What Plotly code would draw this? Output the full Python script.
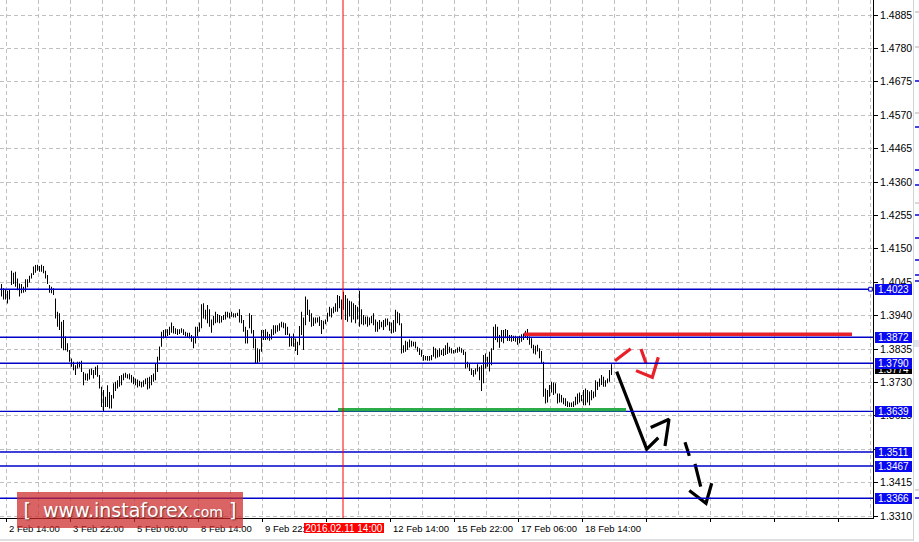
import plotly.graph_objects as go

# ---------------- data (GBP/USD H1 bars) ----------------
highs = [
    1.4039, 1.4026, 1.4023, 1.4018, 1.4023, 1.4081, 1.4075, 1.4078, 1.4057, 1.4041,
    1.4039, 1.4031, 1.4054, 1.4054, 1.4065, 1.4073, 1.4094, 1.4099, 1.4100, 1.4096,
    1.4100, 1.4096, 1.4081, 1.4068, 1.4036, 1.4031, 1.4026, 1.3994, 1.3952, 1.3947,
    1.3921, 1.3926, 1.3874, 1.3853, 1.3832, 1.3805, 1.3795, 1.3784, 1.3795, 1.3795,
    1.3798, 1.3763, 1.3758, 1.3758, 1.3771, 1.3774, 1.3769, 1.3779, 1.3784, 1.3753,
    1.3716, 1.3706, 1.3685, 1.3721, 1.3700, 1.3690, 1.3727, 1.3732, 1.3737, 1.3750,
    1.3753, 1.3758, 1.3760, 1.3756, 1.3758, 1.3753, 1.3748, 1.3742, 1.3739, 1.3735,
    1.3732, 1.3737, 1.3742, 1.3745, 1.3748, 1.3753, 1.3758, 1.3790, 1.3811, 1.3843,
    1.3889, 1.3895, 1.3897, 1.3897, 1.3905, 1.3918, 1.3907, 1.3900, 1.3897, 1.3897,
    1.3900, 1.3897, 1.3889, 1.3886, 1.3886, 1.3879, 1.3874, 1.3905, 1.3905, 1.3918,
    1.3976, 1.3979, 1.3958, 1.3973, 1.3960, 1.3928, 1.3939, 1.3952, 1.3945, 1.3942,
    1.3939, 1.3942, 1.3952, 1.3952, 1.3949, 1.3952, 1.3947, 1.3947, 1.3949, 1.3960,
    1.3942, 1.3926, 1.3905, 1.3895, 1.3947, 1.3942, 1.3895, 1.3868, 1.3837, 1.3834,
    1.3895, 1.3895, 1.3897, 1.3889, 1.3882, 1.3897, 1.3910, 1.3910, 1.3910, 1.3916,
    1.3921, 1.3918, 1.3916, 1.3905, 1.3884, 1.3874, 1.3884, 1.3868, 1.3858, 1.3907,
    1.3952, 1.3934, 1.4000, 1.3991, 1.3958, 1.3947,
    1.3934, 1.3934, 1.3934, 1.3937, 1.3926, 1.3924, 1.3928, 1.3949, 1.3968, 1.3963,
    1.3968, 1.3979, 1.4005, 1.4002, 1.3991, 1.4015, 1.4005, 1.3994, 1.3987, 1.3984,
    1.3979, 1.3973, 1.3968, 1.4018, 1.3960, 1.3942, 1.3937, 1.3937, 1.3934, 1.3939,
    1.3947, 1.3928, 1.3921, 1.3926, 1.3921, 1.3926, 1.3931, 1.3931, 1.3921, 1.3918,
    1.3926, 1.3958, 1.3952, 1.3947, 1.3916, 1.3847, 1.3861, 1.3858, 1.3865, 1.3861,
    1.3858, 1.3858, 1.3842, 1.3837, 1.3832, 1.3816, 1.3813, 1.3813, 1.3813, 1.3816,
    1.3842, 1.3837, 1.3832, 1.3837, 1.3832, 1.3837, 1.3847, 1.3855, 1.3842, 1.3837,
    1.3832, 1.3834, 1.3840, 1.3842, 1.3837, 1.3832, 1.3826, 1.3795,
    1.3790, 1.3774, 1.3769, 1.3774, 1.3787, 1.3779, 1.3784, 1.3816, 1.3821, 1.3811,
    1.3826, 1.3837, 1.3905, 1.3913, 1.3905, 1.3879, 1.3895, 1.3895, 1.3898, 1.3895,
    1.3879, 1.3879, 1.3877, 1.3877, 1.3874, 1.3877, 1.3881, 1.3884, 1.3892, 1.3898,
    1.3874, 1.3869, 1.3848, 1.3845, 1.3848, 1.3837, 1.3829, 1.3795, 1.3711, 1.3706,
    1.3722, 1.3732, 1.3730, 1.3727, 1.3695, 1.3695, 1.3690, 1.3682, 1.3680, 1.3671,
    1.3667, 1.3667, 1.3671, 1.3685, 1.3695, 1.3698, 1.3690, 1.3706, 1.3711, 1.3706,
    1.3701, 1.3706, 1.3701, 1.3737, 1.3732, 1.3742, 1.3753, 1.3748, 1.3737, 1.3742,
    1.3769, 1.3787,
]
lows = [
    1.4000, 1.3991, 1.3991, 1.3978, 1.3991, 1.4036, 1.4039, 1.4031, 1.4020, 1.4000,
    1.4010, 1.4012, 1.4015, 1.4029, 1.4044, 1.4057, 1.4068, 1.4075, 1.4081, 1.4078,
    1.4078, 1.4073, 1.4057, 1.4039, 1.4012, 1.4010, 1.4005, 1.3931, 1.3905, 1.3895,
    1.3837, 1.3831, 1.3831, 1.3826, 1.3795, 1.3779, 1.3768, 1.3753, 1.3774, 1.3777,
    1.3763, 1.3721, 1.3737, 1.3735, 1.3739, 1.3753, 1.3742, 1.3753, 1.3748, 1.3711,
    1.3653, 1.3637, 1.3653, 1.3653, 1.3648, 1.3648, 1.3679, 1.3703, 1.3711, 1.3716,
    1.3721, 1.3737, 1.3745, 1.3742, 1.3739, 1.3729, 1.3724, 1.3721, 1.3714, 1.3718,
    1.3714, 1.3716, 1.3724, 1.3708, 1.3711, 1.3721, 1.3732, 1.3737, 1.3763, 1.3799,
    1.3842, 1.3868, 1.3871, 1.3876, 1.3879, 1.3886, 1.3884, 1.3882, 1.3879, 1.3882,
    1.3886, 1.3879, 1.3874, 1.3871, 1.3868, 1.3858, 1.3837, 1.3852, 1.3874, 1.3889,
    1.3900, 1.3931, 1.3928, 1.3916, 1.3905, 1.3886, 1.3910, 1.3916, 1.3918, 1.3916,
    1.3918, 1.3926, 1.3928, 1.3934, 1.3931, 1.3936, 1.3934, 1.3934, 1.3939, 1.3918,
    1.3916, 1.3889, 1.3852, 1.3852, 1.3900, 1.3884, 1.3837, 1.3790, 1.3790, 1.3795,
    1.3826, 1.3863, 1.3863, 1.3865, 1.3861, 1.3865, 1.3879, 1.3884, 1.3889, 1.3892,
    1.3903, 1.3900, 1.3879, 1.3879, 1.3842, 1.3844, 1.3842, 1.3829, 1.3816, 1.3847,
    1.3879, 1.3832, 1.3910, 1.3942, 1.3921, 1.3905,
    1.3907, 1.3915, 1.3918, 1.3907, 1.3882, 1.3897, 1.3913, 1.3921, 1.3937, 1.3934,
    1.3947, 1.3952, 1.3952, 1.3963, 1.3928, 1.3958, 1.3926, 1.3921, 1.3937, 1.3918,
    1.3928, 1.3916, 1.3928, 1.3905, 1.3913, 1.3910, 1.3913, 1.3905, 1.3910, 1.3916,
    1.3910, 1.3889, 1.3889, 1.3897, 1.3903, 1.3895, 1.3905, 1.3910, 1.3892, 1.3884,
    1.3886, 1.3889, 1.3916, 1.3910, 1.3821, 1.3823, 1.3826, 1.3832, 1.3840, 1.3842,
    1.3844, 1.3837, 1.3826, 1.3816, 1.3811, 1.3798, 1.3800, 1.3798, 1.3798, 1.3800,
    1.3811, 1.3805, 1.3808, 1.3811, 1.3816, 1.3813, 1.3816, 1.3819, 1.3823, 1.3821,
    1.3821, 1.3823, 1.3823, 1.3826, 1.3823, 1.3816, 1.3774, 1.3777,
    1.3766, 1.3753, 1.3748, 1.3755, 1.3764, 1.3737, 1.3703, 1.3727, 1.3774, 1.3779,
    1.3764, 1.3784, 1.3832, 1.3863, 1.3856, 1.3839, 1.3858, 1.3853, 1.3869, 1.3860,
    1.3860, 1.3858, 1.3860, 1.3858, 1.3848, 1.3853, 1.3858, 1.3863, 1.3871, 1.3863,
    1.3848, 1.3837, 1.3821, 1.3818, 1.3827, 1.3806, 1.3790, 1.3685, 1.3664, 1.3667,
    1.3685, 1.3698, 1.3690, 1.3695, 1.3664, 1.3667, 1.3667, 1.3661, 1.3656, 1.3653,
    1.3653, 1.3653, 1.3653, 1.3658, 1.3661, 1.3667, 1.3671, 1.3658, 1.3658, 1.3667,
    1.3658, 1.3674, 1.3680, 1.3685, 1.3706, 1.3716, 1.3722, 1.3716, 1.3716, 1.3727,
    1.3732, 1.3753,
]
bar_index = list(range(len(highs)))

# price axis ticks (1.3520 is hidden under the 1.3511 level label in the reference)
price_ticks = [1.3310, 1.3415, 1.3520, 1.3625, 1.3730, 1.3835, 1.3940, 1.4045,
               1.4150, 1.4255, 1.4360, 1.4465, 1.4570, 1.4675, 1.4780, 1.4885]
price_tick_text = ["1.3310", "1.3415", "", "1.3625", "1.3730", "1.3835", "1.3940", "1.4045",
                   "1.4150", "1.4255", "1.4360", "1.4465", "1.4570", "1.4675", "1.4780", "1.4885"]

# time axis labels (every 32 bars); the 11 Feb label is hidden under the marker label
time_labels = ["2 Feb 14:00", "3 Feb 22:00", "5 Feb 06:00", "8 Feb 14:00", "9 Feb 22:00",
               "12 Feb 14:00", "15 Feb 22:00", "17 Feb 06:00", "18 Feb 14:00"]
time_label_bars = [2.55, 34.55, 66.55, 98.55, 130.55, 194.55, 226.55, 258.55, 290.55]

# horizontal levels
levels = [1.4023, 1.3872, 1.3790, 1.3639, 1.3511, 1.3467, 1.3366]
bid_price = 1.3774
resistance_price = 1.3881
resistance_bars = [261.25, 425.25]
support_price = 1.3644
support_bars = [168.25, 312.25]
marker_bar = 171
marker_label = "2016.02.11 14:00"

# hand-drawn forecast strokes (bar index, price)
red_strokes = [
    ([306.75, 314.6], [1.3798, 1.3836]),
    ([319.75, 322.25], [1.3835, 1.3790]),
    ([317.25, 325.4, 328.4], [1.3767, 1.3746, 1.3809]),
]
black_strokes = [
    ([307.6, 322.6, 328.4], [1.3764, 1.3520, 1.3556]),
    ([324.6, 333.75, 331.75], [1.3588, 1.3614, 1.3530]),
    ([341.75, 343.9], [1.3542, 1.3499]),
    ([346.75, 349.6], [1.3474, 1.3402]),
    ([343.9, 352.25, 355.1], [1.3390, 1.3350, 1.3413]),
]

# ---------------- figure ----------------
FONT = "Liberation Sans"
GRID = "#c0c0c0"
W, H = 919, 542
PL_W, PL_H = 873, 518   # plot area size in px

fig = go.Figure()

fig.add_trace(go.Bar(
    x=bar_index,
    y=[h - l for h, l in zip(highs, lows)],
    base=lows,
    width=0.5,
    marker=dict(color="black", line=dict(width=0)),
    hoverinfo="skip",
))

for xs, ys in red_strokes:
    fig.add_trace(go.Scatter(x=xs, y=ys, mode="lines",
                             line=dict(color="#e8202a", width=3.2), hoverinfo="skip"))
for xs, ys in black_strokes:
    fig.add_trace(go.Scatter(x=xs, y=ys, mode="lines",
                             line=dict(color="black", width=3.2), hoverinfo="skip"))

shapes = []
shapes.append(dict(type="line", xref="paper", x0=0, x1=1, yref="y", y0=bid_price, y1=bid_price,
                   line=dict(color="#c0c0c0", width=1), layer="below"))
for lv in levels:
    shapes.append(dict(type="line", xref="paper", x0=0, x1=1, yref="y", y0=lv, y1=lv,
                       line=dict(color="#0000c8", width=1.4)))
shapes.append(dict(type="rect", xref="x", x0=433.6, x1=435.4, yref="y",
                   y0=levels[0] - 0.0006, y1=levels[0] + 0.0006,
                   line=dict(color="#0000c8", width=1), fillcolor="white"))
shapes.append(dict(type="line", xref="x", x0=resistance_bars[0], x1=resistance_bars[1], yref="y",
                   y0=resistance_price, y1=resistance_price, line=dict(color="#e8202a", width=3.5)))
shapes.append(dict(type="line", xref="x", x0=support_bars[0], x1=support_bars[1], yref="y",
                   y0=support_price, y1=support_price, line=dict(color="#2aad48", width=3.5)))
shapes.append(dict(type="line", xref="x", x0=marker_bar - 0.25, x1=marker_bar - 0.25,
                   yref="paper", y0=0, y1=1, line=dict(color="#ff0000", width=1)))

def py(p):
    return (PL_H - p) / PL_H
def px(p):
    return p / PL_W

shapes.append(dict(type="line", xref="paper", yref="paper", x0=px(913.5), x1=px(913.5),
                   y0=py(541), y1=py(0), line=dict(color="#d4d4d4", width=1)))
shapes.append(dict(type="line", xref="paper", yref="paper", x0=0, x1=px(913),
                   y0=py(540), y1=py(540), line=dict(color="#d4d4d4", width=1.5)))
for yy in [81, 127, 170, 185, 215, 238, 260, 275, 281, 498]:
    shapes.append(dict(type="line", xref="paper", yref="paper", x0=px(915), x1=px(919),
                       y0=py(yy), y1=py(yy), line=dict(color="#0000e0", width=1.5)))
for yy in [12, 47, 113, 203, 490]:
    shapes.append(dict(type="line", xref="paper", yref="paper", x0=px(915), x1=px(919),
                       y0=py(yy), y1=py(yy), line=dict(color="#b0b0b0", width=1)))
shapes.append(dict(type="rect", xref="paper", yref="paper", x0=px(914), x1=px(919),
                   y0=py(347), y1=py(340), line=dict(width=0), fillcolor="#dde4ee"))

annotations = []
for tb, tl in zip(time_label_bars, time_labels):
    annotations.append(dict(x=tb, xref="x", y=0, yref="paper", yanchor="middle", yshift=-10.5,
                            xanchor="left", xshift=0, text=tl, showarrow=False,
                            font=dict(family=FONT, size=9.5, color="black")))
annotations.append(dict(x=marker_bar, xref="x", y=0, yref="paper", yanchor="middle", yshift=-9.5,
                        xanchor="center", text=marker_label, showarrow=False,
                        bgcolor="#ff0000", width=80, height=10, borderpad=0, borderwidth=0,
                        font=dict(family=FONT, size=10, color="white")))
annotations.append(dict(x=1, xref="paper", xanchor="left", xshift=2, y=bid_price, yref="y",
                        yanchor="middle", yshift=-1, text=f"{bid_price:.4f}", showarrow=False,
                        bgcolor="black", width=37, height=10, borderpad=0, borderwidth=0,
                        font=dict(family=FONT, size=10, color="white")))
for lv in levels:
    annotations.append(dict(x=1, xref="paper", xanchor="left", xshift=2, y=lv, yref="y",
                            yanchor="middle", text=f"{lv:.4f}", showarrow=False,
                            bgcolor="#0a0af0", width=37, height=11, borderpad=0, borderwidth=0,
                            font=dict(family=FONT, size=10, color="white")))
annotations.append(dict(
    x=px(130), xref="paper", y=py(510), yref="paper", xanchor="center", yanchor="middle",
    text="[  www.instaforex<span style='font-size:14px'>.com</span> ]",
    showarrow=False, bgcolor="rgba(204,40,40,0.72)", width=226, height=36,
    borderpad=0, borderwidth=0,
    font=dict(family="DejaVu Sans", size=19, color="white", shadow="1px 1px 1px rgba(0,0,0,0.45)"),
))

fig.update_layout(
    width=W, height=H,
    margin=dict(l=0, r=W - PL_W, t=0, b=H - PL_H),
    paper_bgcolor="white", plot_bgcolor="white",
    showlegend=False,
    shapes=shapes, annotations=annotations,
    xaxis=dict(
        range=[-0.75, 435.75], tickmode="linear", tick0=2.55, dtick=32,
        showticklabels=False, ticks="outside", ticklen=3, tickcolor="black",
        showgrid=True, gridcolor=GRID, griddash="4px,3px", gridwidth=1,
        minor=dict(tick0=2.55, dtick=16, showgrid=True, gridcolor=GRID,
                   griddash="4px,3px", gridwidth=1, ticks=""),
        showline=True, linecolor="black", linewidth=1, zeroline=False, fixedrange=True,
    ),
    yaxis=dict(
        side="right", range=[1.330371, 1.493216], tickmode="array",
        tickvals=price_ticks, ticktext=price_tick_text,
        ticks="outside", ticklen=4, tickcolor="black",
        tickfont=dict(family=FONT, size=10.5, color="black"),
        showgrid=True, gridcolor=GRID, griddash="4px,3px", gridwidth=1,
        showline=True, linecolor="black", linewidth=1, zeroline=False, fixedrange=True,
        automargin=False,
    ),
)

fig.write_html(
    "out.html",
    config={"displayModeBar": False},
    post_script="document.body.style.margin='0';document.body.style.padding='0';"
                "document.body.style.overflow='hidden';",
)
